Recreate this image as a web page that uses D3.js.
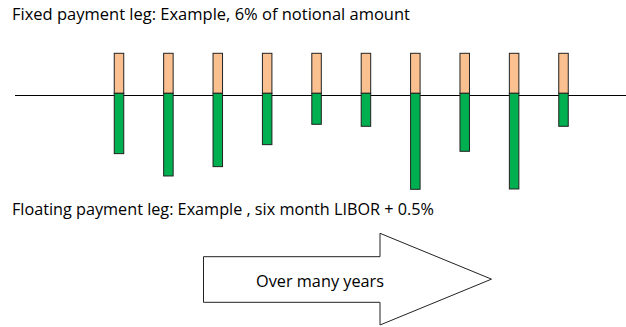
<!DOCTYPE html>
<html>
<head>
<meta charset="utf-8">
<script src="https://cdn.jsdelivr.net/npm/d3@7"></script>
<style>
  html, body { margin: 0; padding: 0; background: #fff; }
  svg { display: block; }
  text { font-family: "Open Sans", "Liberation Sans", sans-serif; fill: #000; }
</style>
</head>
<body>
<svg id="chart" width="626" height="327"></svg>
<script>
// Payment periods of the swap
const periods = [1, 2, 3, 4, 5, 6, 7, 8, 9, 10];
// Fixed leg: 6% of notional every period (paid upward)
const fixedLeg = [6, 6, 6, 6, 6, 6, 6, 6, 6, 6];
// Floating leg: six month LIBOR + 0.5% (received downward), illustrative
const floatingLeg = [9.05, 12.4, 11.0, 7.7, 4.65, 4.95, 14.4, 8.7, 14.35, 4.95];

const fixedTitle = "Fixed payment leg: Example, 6% of notional amount";
const floatTitle = "Floating payment leg: Example , six month LIBOR + 0.5%";
const arrowLabel = "Over many years";

const svg = d3.select("#chart");
const W = 626, H = 327;

const x = d3.scaleLinear().domain([1, 10]).range([119, 563.5]);
const y = d3.scaleLinear().domain([0, 6]).range([93.3, 53.3]);
const barW = 9.5;

// Titles
svg.append("text")
  .attr("x", 12).attr("y", 20)
  .attr("font-size", 15.5)
  .attr("textLength", 398).attr("lengthAdjust", "spacingAndGlyphs")
  .text(fixedTitle);

svg.append("text")
  .attr("x", 12).attr("y", 215)
  .attr("font-size", 15.5)
  .attr("textLength", 422).attr("lengthAdjust", "spacingAndGlyphs")
  .text(floatTitle);

// Time line
svg.append("line")
  .attr("x1", 15).attr("x2", W)
  .attr("y1", 95.5).attr("y2", 95.5)
  .attr("stroke", "#000").attr("stroke-width", 1);

// Fixed payments (above the line)
svg.append("g").selectAll("rect")
  .data(periods)
  .join("rect")
  .attr("x", (d) => x(d) - barW / 2)
  .attr("y", (d, i) => y(fixedLeg[i]))
  .attr("width", barW)
  .attr("height", (d, i) => y(0) - y(fixedLeg[i]))
  .attr("fill", "#FAC090")
  .attr("stroke", "#222").attr("stroke-width", 1);

// Floating payments (below the line)
svg.append("g").selectAll("rect")
  .data(periods)
  .join("rect")
  .attr("x", (d) => x(d) - barW / 2)
  .attr("y", y(0))
  .attr("width", barW)
  .attr("height", (d, i) => y(0) - y(floatingLeg[i]))
  .attr("fill", "#00B050")
  .attr("stroke", "#222").attr("stroke-width", 1);

// Block arrow showing the passage of time
const arrow = { x0: 203.5, x1: 380, tip: 491.5, bodyTop: 256.7, bodyBot: 302.3, headTop: 233.3, headBot: 325 };
const mid = (arrow.headTop + arrow.headBot) / 2;
svg.append("path")
  .attr("d", d3.line()([
    [arrow.x0, arrow.bodyTop], [arrow.x1, arrow.bodyTop], [arrow.x1, arrow.headTop],
    [arrow.tip, mid], [arrow.x1, arrow.headBot], [arrow.x1, arrow.bodyBot],
    [arrow.x0, arrow.bodyBot]
  ]) + "Z")
  .attr("fill", "#fff")
  .attr("stroke", "#222").attr("stroke-width", 1);

svg.append("text")
  .attr("x", 256).attr("y", 286.7)
  .attr("font-size", 16)
  .attr("textLength", 128).attr("lengthAdjust", "spacingAndGlyphs")
  .text(arrowLabel);
</script>
</body>
</html>
